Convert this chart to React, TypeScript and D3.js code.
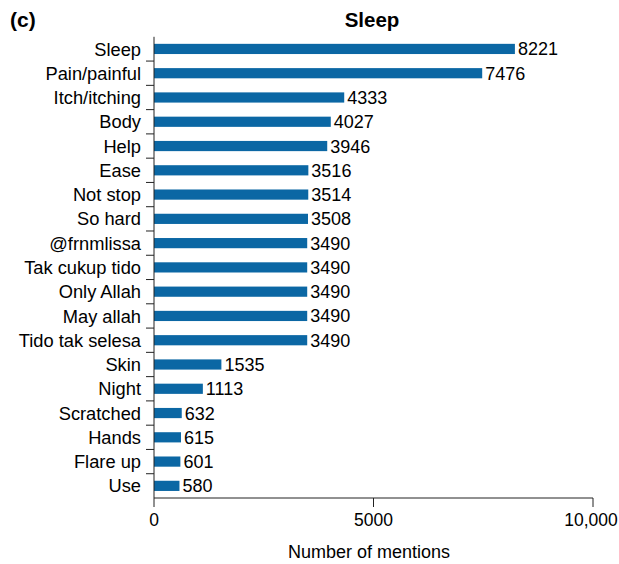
import { scaleBand, scaleLinear, format } from 'd3'

const categories = [
  'Sleep', 'Pain/painful', 'Itch/itching', 'Body', 'Help', 'Ease', 'Not stop', 'So hard',
  '@frnmlissa', 'Tak cukup tido', 'Only Allah', 'May allah', 'Tido tak selesa', 'Skin',
  'Night', 'Scratched', 'Hands', 'Flare up', 'Use',
]
const mentions = [8221, 7476, 4333, 4027, 3946, 3516, 3514, 3508, 3490, 3490, 3490, 3490, 3490, 1535, 1113, 632, 615, 601, 580]
const xTicks = [0, 5000, 10000]

const WIDTH = 619
const HEIGHT = 564
const MARGIN = { top: 36.8, right: 26, bottom: 66, left: 154 }
const FONT = '"Liberation Sans", Arial, Helvetica, sans-serif'
const BAR_COLOR = '#0b67a4'

export default function App() {
  const x = scaleLinear().domain([0, 10000]).range([MARGIN.left, WIDTH - MARGIN.right])
  const y = scaleBand<string>().domain(categories).range([MARGIN.top, HEIGHT - MARGIN.bottom]).padding(0)
  const step = y.step()
  const barH = step * 0.42
  const axisY = HEIGHT - MARGIN.bottom
  const tickFmt = (d: number) => (d >= 10000 ? format(',')(d) : String(d))

  return (
    <svg
      width={WIDTH}
      height={HEIGHT}
      style={{ position: 'absolute', left: 0, top: 0, background: '#fff' }}
      fontFamily={FONT}
    >
      <text x={10} y={27} fontSize={21} fontWeight="bold">(c)</text>
      <text x={372} y={27} fontSize={20.5} fontWeight="bold" textAnchor="middle">Sleep</text>

      {categories.map((c, i) => {
        const cy = (y(c) ?? 0) + step / 2
        return (
          <g key={c}>
            <rect x={x(0)} y={cy - barH / 2} width={x(mentions[i]) - x(0)} height={barH} fill={BAR_COLOR} />
            <text x={x(mentions[i]) + 3} y={cy} dy="0.36em" fontSize={18}>{mentions[i]}</text>
            <text x={x(0) - 13} y={cy} dy="0.36em" fontSize={18.3} textAnchor="end">{c}</text>
            {i > 0 && <line x1={x(0) - 8} x2={x(0)} y1={y(c)} y2={y(c)} stroke="#222" />}
          </g>
        )
      })}

      <line x1={x(0)} x2={x(0)} y1={MARGIN.top} y2={axisY} stroke="#222" />
      <line x1={x(0)} x2={x(10000)} y1={axisY} y2={axisY} stroke="#222" />
      {xTicks.map((t) => (
        <g key={t}>
          <line x1={x(t)} x2={x(t)} y1={axisY} y2={axisY + 9} stroke="#222" />
          <text
            x={t === 10000 ? x(t) - 2 : x(t)}
            y={axisY + 28}
            fontSize={17.5}
            textAnchor="middle"
          >
            {tickFmt(t)}
          </text>
        </g>
      ))}
      <text x={369} y={558} fontSize={18} textAnchor="middle">Number of mentions</text>
    </svg>
  )
}
